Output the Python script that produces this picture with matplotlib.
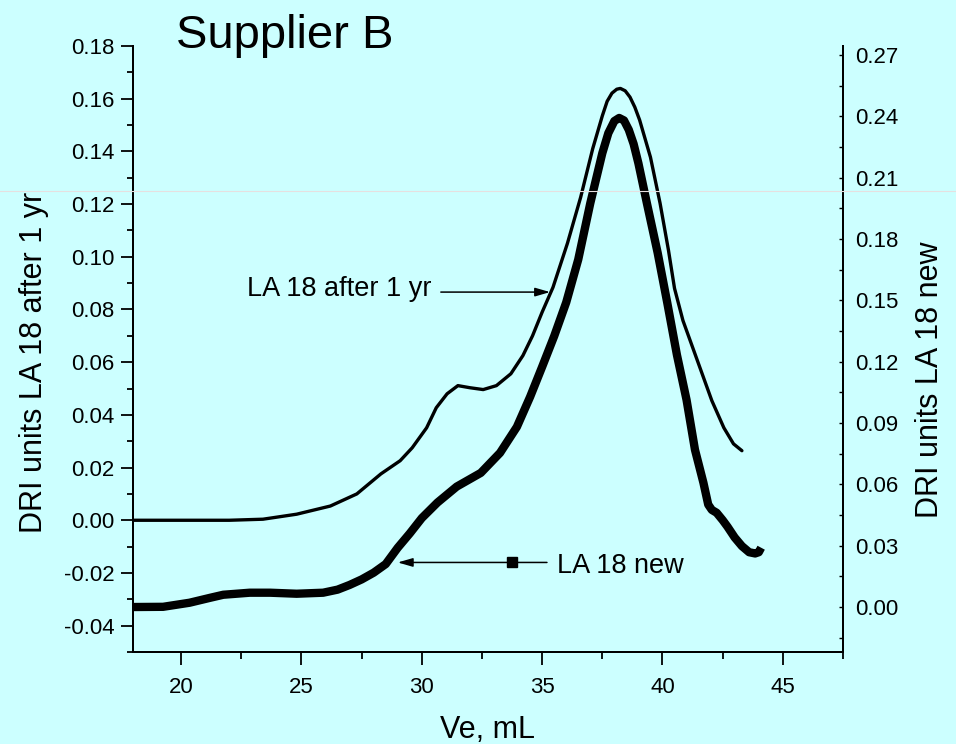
import matplotlib
matplotlib.use("Agg")
import matplotlib.pyplot as plt
from matplotlib.ticker import MultipleLocator, FormatStrFormatter
from matplotlib.lines import Line2D

plt.rcParams['font.family'] = ['Liberation Sans', 'DejaVu Sans']
plt.rcParams['axes.unicode_minus'] = False

# ---- data ----
ve_after = [18.0, 22.0, 23.4, 24.8, 26.2, 27.3, 28.3, 29.1, 29.6, 30.2, 30.6, 31.05,
            31.5, 32.0, 32.55, 33.1, 33.7, 34.2, 34.6, 35.0, 35.45, 36.05, 36.6, 37.1,
            37.5, 37.7, 37.9, 38.1, 38.25, 38.45, 38.65, 38.85, 39.05, 39.5, 39.9, 40.25,
            40.5, 40.85, 41.3, 42.05, 42.55, 42.95, 43.3]
dri_after = [0.0, 0.0, 0.0004, 0.0023, 0.0054, 0.0100, 0.0176, 0.0226, 0.0275, 0.0351,
             0.0427, 0.0480, 0.0511, 0.0503, 0.0496, 0.0511, 0.0556, 0.0625, 0.0700,
             0.0790, 0.0884, 0.1051, 0.1226, 0.1410, 0.1535, 0.1590, 0.1621, 0.1636,
             0.1639, 0.1630, 0.1606, 0.1568, 0.1519, 0.1378, 0.1203, 0.1024, 0.0880,
             0.0758, 0.0644, 0.0454, 0.0351, 0.0290, 0.0264]

ve_new = [18.0, 19.25, 20.35, 21.2, 21.75, 22.85, 23.7, 24.8, 25.9, 26.5, 27.0, 27.5,
          28.0, 28.5, 29.0, 29.5, 30.0, 30.65, 31.45, 32.45, 33.25, 33.95, 34.5, 35.0,
          35.5, 36.0, 36.5, 37.0, 37.5, 37.75, 38.0, 38.2, 38.4, 38.6, 38.8, 39.0,
          39.35, 39.8, 40.2, 40.6, 41.0, 41.35, 41.7, 41.9, 42.05, 42.25, 42.5, 42.7,
          43.0, 43.3, 43.6, 43.85, 44.0, 44.1]
dri_new = [0.0, 0.0001, 0.0021, 0.0045, 0.0060, 0.0070, 0.0070, 0.0065, 0.0070, 0.0085,
           0.0108, 0.0135, 0.0168, 0.0210, 0.0290, 0.0360, 0.0435, 0.0511, 0.0589,
           0.0656, 0.0754, 0.0881, 0.1028, 0.1175, 0.1325, 0.1490, 0.1700, 0.1975,
           0.2220, 0.2318, 0.2377, 0.2392, 0.2380, 0.2334, 0.2265, 0.2170, 0.1976,
           0.1732, 0.1487, 0.1233, 0.1013, 0.0769, 0.0608, 0.0501, 0.0475, 0.0461,
           0.0425, 0.0393, 0.0340, 0.0298, 0.0268, 0.0262, 0.0268, 0.0290]

x_ticks = [20, 25, 30, 35, 40, 45]
left_ticks = [-0.04, -0.02, 0.00, 0.02, 0.04, 0.06, 0.08, 0.10, 0.12, 0.14, 0.16, 0.18]
right_ticks = [0.00, 0.03, 0.06, 0.09, 0.12, 0.15, 0.18, 0.21, 0.24, 0.27]

title = "Supplier B"
xlabel = "Ve, mL"
ylabel_left = "DRI units LA 18 after 1 yr"
ylabel_right = "DRI units LA 18 new"
label_after = "LA 18 after 1 yr"
label_new = "LA 18 new"

BG = '#CCFFFF'
W, H = 956, 744
fig = plt.figure(figsize=(W / 100, H / 100), dpi=100, facecolor=BG)
ax = fig.add_axes([133 / W, 1 - 652 / H, (843 - 133) / W, (652 - 46) / H])
ax.set_facecolor(BG)
ax2 = ax.twinx()

ax.plot(ve_after, dri_after, color='black', lw=2.4, solid_capstyle='round',
        solid_joinstyle='round', zorder=3)
ax2.plot(ve_new, dri_new, color='black', lw=6.0, solid_capstyle='butt',
         solid_joinstyle='round', zorder=3)

ax.set_xlim(18, 47.5)
ax.set_ylim(-0.05, 0.18)
ax2.set_ylim(-0.022, 0.2744)

ax.set_xticks(x_ticks)
ax.xaxis.set_minor_locator(MultipleLocator(2.5))
ax.set_yticks(left_ticks)
ax.yaxis.set_minor_locator(MultipleLocator(0.01))
ax.yaxis.set_major_formatter(FormatStrFormatter('%.2f'))
ax2.set_yticks(right_ticks)
ax2.yaxis.set_minor_locator(MultipleLocator(0.015))
ax2.yaxis.set_major_formatter(FormatStrFormatter('%.2f'))

for a in (ax, ax2):
    a.spines['top'].set_visible(False)
    for s in a.spines.values():
        s.set_linewidth(1.4)

ax.tick_params(axis='x', which='major', direction='out', length=9, width=1.3,
               labelsize=16, pad=9)
ax.tick_params(axis='x', which='minor', direction='out', length=5, width=1.3)
ax.tick_params(axis='y', which='major', direction='out', length=8.5, width=1.3,
               labelsize=16, pad=5)
ax.tick_params(axis='y', which='minor', direction='out', length=4.2, width=1.3)
ax2.tick_params(axis='y', which='major', direction='in', length=3, width=1.0,
                labelsize=16, pad=9)
ax2.tick_params(axis='y', which='minor', direction='in', length=3, width=1.0)

# labels and title
fig.text(175.7 / W, 1 - 48.3 / H, title, fontsize=34, ha='left', va='baseline')
fig.text(487.5 / W, 1 - 738.3 / H, xlabel, fontsize=22, ha='center', va='baseline')
fig.text(34 / W, 1 - 362 / H, ylabel_left, fontsize=22, rotation=90,
         ha='center', va='center')
fig.text(930 / W, 1 - 380 / H, ylabel_right, fontsize=22, rotation=90,
         ha='center', va='center')

# annotations
ax.annotate('', xy=(35.33, 0.0866), xytext=(30.79, 0.0866),
            arrowprops=dict(arrowstyle='-|>,head_length=0.45,head_width=0.13',
                            mutation_scale=20, color='black', lw=1.1,
                            shrinkA=0, shrinkB=0), zorder=4)
ax.text(30.42, 0.0853, label_after, fontsize=19.5, ha='right', va='baseline')

ax2.annotate('', xy=(29.0, 0.0218), xytext=(35.2, 0.0218),
             arrowprops=dict(arrowstyle='-|>,head_length=0.45,head_width=0.13',
                             mutation_scale=20, color='black', lw=1.1,
                             shrinkA=0, shrinkB=0), zorder=4)
ax2.plot([33.75], [0.0218], marker='s', ms=6.5, color='black', zorder=5)
ax2.text(35.62, 0.0168, label_new, fontsize=19.5, ha='left', va='baseline')

# faint horizontal artifact line across the picture
fig.add_artist(Line2D([0, 1], [1 - 191 / H, 1 - 191 / H], transform=fig.transFigure,
                      color='#E6E0E0', lw=0.8))

fig.savefig('out.png', dpi=100, facecolor=BG)
